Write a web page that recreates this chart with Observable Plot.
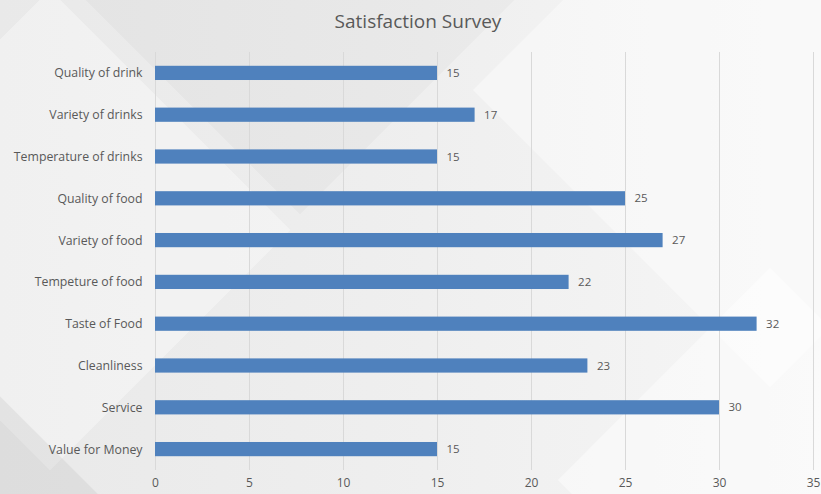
<!DOCTYPE html>
<html><head><meta charset="utf-8">
<script src="https://cdn.jsdelivr.net/npm/d3@7"></script>
<script src="https://cdn.jsdelivr.net/npm/@observablehq/plot@0.6"></script>
<style>
body{margin:0;}
#chart{position:relative;width:821px;height:494px;overflow:hidden;background:linear-gradient(90deg,#e9e9e9 0%,#eeeeee 45%,#f6f6f6 100%);font-family:"Open Sans",sans-serif;}
.deco{position:absolute;transform:rotate(45deg);}
#title{position:relative;height:40px;line-height:42px;text-align:center;font-size:19px;color:#595959;padding-left:15px;box-sizing:border-box;}
#plot{position:relative;}
</style>
</head><body>
<div id="chart">
  <div class="deco" style="left:-120px;top:60px;width:340px;height:340px;background:rgba(255,255,255,0.35)"></div>
  <div class="deco" style="left:120px;top:-220px;width:360px;height:360px;background:rgba(0,0,0,0.025)"></div>
  <div class="deco" style="left:560px;top:-120px;width:420px;height:420px;background:rgba(255,255,255,0.4)"></div>
  <div class="deco" style="left:-160px;top:420px;width:260px;height:260px;background:rgba(0,0,0,0.05)"></div>
  <div class="deco" style="left:620px;top:330px;width:300px;height:300px;background:rgba(255,255,255,0.45)"></div>
  <div id="title">Satisfaction Survey</div>
  <div id="plot"></div>
</div>
<script>
const categories = ["Quality of drink","Variety of drinks","Temperature of drinks","Quality of food","Variety of food","Tempeture of food","Taste of Food","Cleanliness","Service","Value for Money"];
const values = [15,17,15,25,27,22,32,23,30,15];
const xTicks = [0,5,10,15,20,25,30,35];

const data = categories.map((c,i)=>({category:c,value:values[i]}));

const chart = Plot.plot({
  width:821, height:454,
  marginTop:12, marginBottom:24, marginLeft:155, marginRight:8,
  style:{fontFamily:"'Open Sans',sans-serif",fontSize:"12.3px",color:"#595959",background:"transparent",overflow:"visible"},
  x:{domain:[0,35]},
  y:{domain:categories,paddingInner:0.66,paddingOuter:0.33,round:false},
  marks:[
    Plot.gridX(xTicks,{stroke:"#d9d9d9",strokeOpacity:1}),
    Plot.barX(data,{x:"value",y:"category",fill:"#4f81bd"}),
    Plot.text(data,{x:"value",y:"category",text:d=>String(d.value),textAnchor:"start",dx:9,fill:"#595959",fontSize:11.5}),
    Plot.axisX(xTicks,{tickSize:0,tickPadding:8,label:null,fill:"#595959",fontSize:12}),
    Plot.axisY({tickSize:0,tickPadding:13,label:null,fill:"#595959"})
  ]
});
document.getElementById("plot").appendChild(chart);
</script>
</body></html>
